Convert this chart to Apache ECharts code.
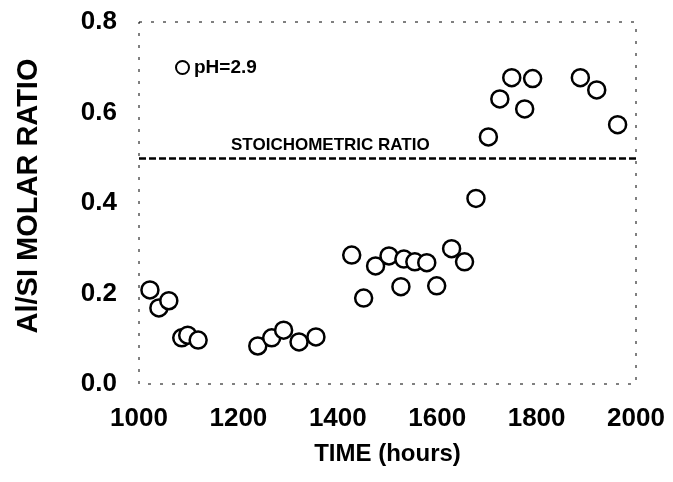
<!DOCTYPE html>
<html>
<head>
<meta charset="utf-8">
<script src="https://cdn.jsdelivr.net/npm/echarts@6/dist/echarts.min.js"></script>
<style>
html,body{margin:0;padding:0;background:#fff;}
#chart{width:673px;height:482px;}
</style>
</head>
<body>
<div id="chart"></div>
<script>
// Data
const timeHours = [1022,1040,1060,1086,1098,1119,1239,1267,1291,1322,1356,1428,1452,1476,1503,1527,1533,1555,1579,1599,1629,1655,1678,1703,1726,1750,1776,1792,1888,1921,1963];
const ratioValues = [0.208,0.168,0.184,0.102,0.108,0.097,0.084,0.102,0.119,0.093,0.104,0.285,0.190,0.261,0.283,0.215,0.276,0.270,0.268,0.217,0.299,0.270,0.410,0.546,0.630,0.677,0.608,0.675,0.677,0.650,0.573];
const xTicks = [1000,1200,1400,1600,1800,2000];
const yTicks = [0.0,0.2,0.4,0.6,0.8];
const stoichRatio = 0.5;
const seriesName = 'pH=2.9';
const stoichLabel = 'STOICHOMETRIC RATIO';

const FONT = '"Liberation Sans", Arial, sans-serif';
const chart = echarts.init(document.getElementById('chart'), null, {renderer:'canvas'});
const points = timeHours.map((t,i)=>[t, ratioValues[i]]);

chart.setOption({
  backgroundColor:'#fff',
  animation:false,
  grid:{left:139, right:37, top:22, bottom:98, show:true, borderColor:'#000', borderWidth:1, borderType:[3,9]},
  legend:{
    left:170, top:53, data:[seriesName], icon:'circle', itemWidth:13, itemHeight:13, itemGap:4,
    textStyle:{fontFamily:FONT, fontWeight:'bold', fontSize:19, color:'#000'}
  },
  xAxis:{
    type:'value', min:xTicks[0], max:xTicks[xTicks.length-1], interval:200,
    name:'TIME (hours)', nameLocation:'middle', nameGap:58,
    nameTextStyle:{fontFamily:FONT, fontWeight:'bold', fontSize:24, color:'#000'},
    axisLine:{show:false}, axisTick:{show:false}, splitLine:{show:false},
    axisLabel:{fontFamily:FONT, fontWeight:'bold', fontSize:26, color:'#000', margin:22,
      formatter:v=>String(v)}
  },
  yAxis:{
    type:'value', min:yTicks[0], max:yTicks[yTicks.length-1], interval:0.2,
    name:'Al/SI MOLAR RATIO', nameLocation:'middle', nameGap:96, nameRotate:90,
    nameTextStyle:{fontFamily:FONT, fontWeight:'bold', fontSize:29, color:'#000', padding:[0,0,0,14]},
    axisLine:{show:false}, axisTick:{show:false}, splitLine:{show:false},
    axisLabel:{fontFamily:FONT, fontWeight:'bold', fontSize:26, color:'#000', margin:22,
      formatter:v=>v.toFixed(1)}
  },
  series:[{
    name:seriesName, type:'scatter', data:points, symbol:'circle', symbolSize:17,
    itemStyle:{color:'#fff', borderColor:'#000', borderWidth:2.5, opacity:1},
    markLine:{
      silent:true, symbol:['none','none'],
      lineStyle:{color:'#000', type:[7,3], width:2.5},
      label:{show:false},
      data:[{yAxis:stoichRatio}]
    }
  }]
});

const p = chart.convertToPixel({gridIndex:0},[1385, stoichRatio]);
chart.setOption({
  graphic:[{
    type:'text', x:p[0], y:p[1]-4,
    style:{text:stoichLabel, fill:'#000', font:'bold 17px '+FONT, textAlign:'center', textVerticalAlign:'bottom'}
  }]
});
</script>
</body>
</html>
